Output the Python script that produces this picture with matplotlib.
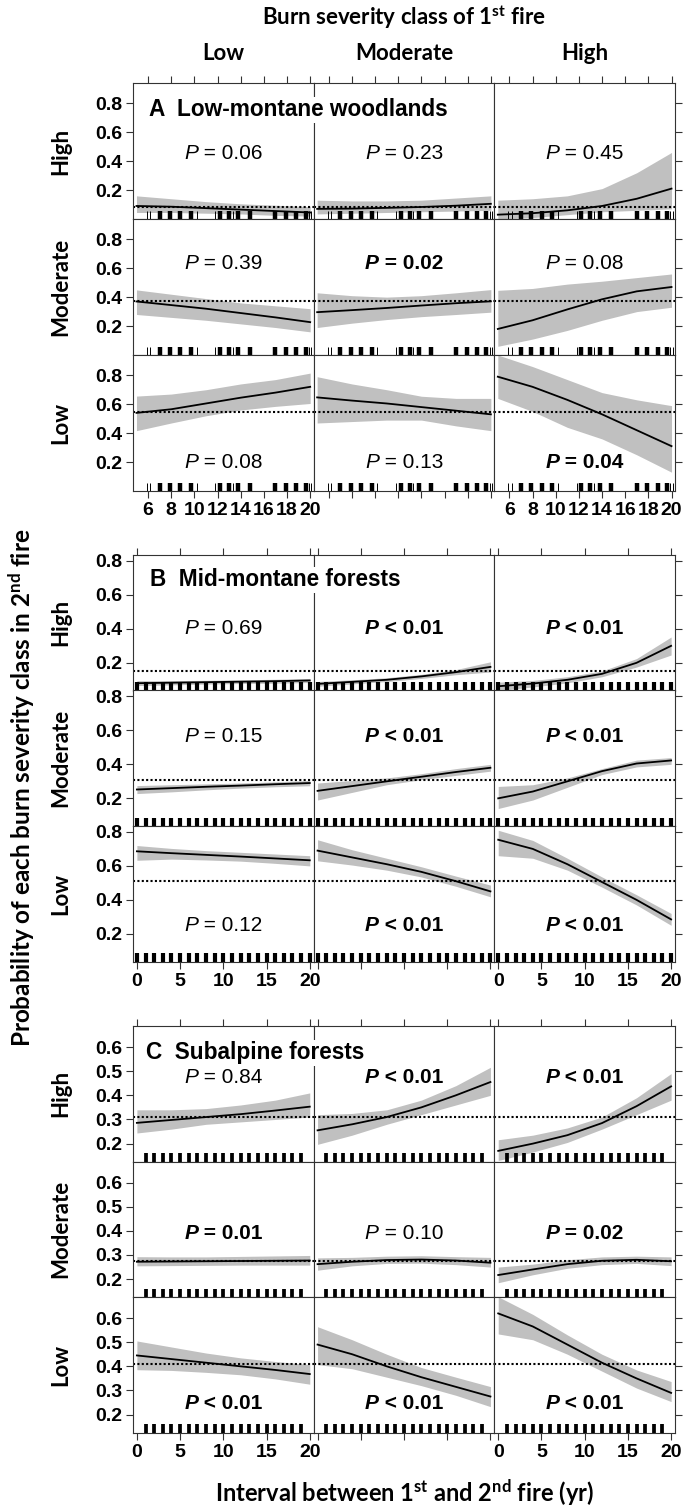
import numpy as np
import matplotlib
matplotlib.use('Agg')
import matplotlib.pyplot as plt
from matplotlib import font_manager as fm
from matplotlib.offsetbox import TextArea, HPacker, AnnotationBbox
import matplotlib.transforms as mtransforms

names = {f.name for f in fm.fontManager.ttflist}
NARROW = 'Liberation Sans Narrow' if 'Liberation Sans Narrow' in names else 'Liberation Sans'
HEAD = 'Lato' if 'Lato' in names else 'DejaVu Sans'
plt.rcParams['mathtext.fontset'] = 'custom'
plt.rcParams['mathtext.rm'] = HEAD + ':bold'
plt.rcParams['mathtext.it'] = HEAD + ':bold:italic'
plt.rcParams['mathtext.bf'] = HEAD + ':bold'

# ---------------- data ----------------
COL_CLASSES = ['Low', 'Moderate', 'High']      # burn severity of 1st fire
ROW_CLASSES = ['High', 'Moderate', 'Low']      # burn severity of 2nd fire
PANEL_TITLES = ['A  Low-montane woodlands', 'B  Mid-montane forests', 'C  Subalpine forests']

A_X = [5, 8, 11, 14, 17, 20]
A_HIGH_FIT = [[0.09, 0.085, 0.075, 0.065, 0.055, 0.045],
              [0.07, 0.072, 0.077, 0.083, 0.092, 0.105],
              [0.03, 0.04, 0.06, 0.09, 0.14, 0.21]]
A_HIGH_UP = [[0.16, 0.14, 0.12, 0.105, 0.095, 0.085],
             [0.13, 0.125, 0.125, 0.13, 0.145, 0.16],
             [0.13, 0.14, 0.16, 0.21, 0.32, 0.46]]
A_HIGH_LO = [[0.045, 0.045, 0.04, 0.035, 0.025, 0.02],
             [0.035, 0.04, 0.045, 0.05, 0.055, 0.06],
             [0.0, 0.01, 0.03, 0.05, 0.06, 0.07]]
A_MOD_FIT = [[0.37, 0.345, 0.32, 0.29, 0.26, 0.227],
             [0.296, 0.31, 0.325, 0.342, 0.358, 0.371],
             [0.18, 0.24, 0.315, 0.385, 0.44, 0.47]]
A_MOD_UP = [[0.45, 0.42, 0.39, 0.36, 0.34, 0.32],
            [0.43, 0.41, 0.40, 0.41, 0.43, 0.452],
            [0.447, 0.46, 0.49, 0.51, 0.535, 0.56]]
A_MOD_LO = [[0.28, 0.26, 0.24, 0.215, 0.19, 0.16],
            [0.19, 0.22, 0.245, 0.265, 0.28, 0.296],
            [0.06, 0.11, 0.17, 0.24, 0.30, 0.33]]
A_LOW_FIT = [[0.54, 0.565, 0.605, 0.645, 0.68, 0.72],
             [0.647, 0.625, 0.605, 0.58, 0.555, 0.53],
             [0.79, 0.72, 0.63, 0.53, 0.42, 0.31]]
A_LOW_UP = [[0.656, 0.67, 0.70, 0.74, 0.77, 0.815],
            [0.79, 0.74, 0.70, 0.655, 0.64, 0.64],
            [0.94, 0.86, 0.77, 0.68, 0.63, 0.59]]
A_LOW_LO = [[0.417, 0.47, 0.52, 0.56, 0.585, 0.605],
            [0.47, 0.48, 0.49, 0.49, 0.45, 0.417],
            [0.64, 0.55, 0.44, 0.36, 0.25, 0.13]]
A_MEAN = [0.085, 0.37, 0.545]
A_P = [['= 0.06', '= 0.23', '= 0.45'], ['= 0.39', '= 0.02', '= 0.08'], ['= 0.08', '= 0.13', '= 0.04']]
A_P_BOLD = [[False, False, False], [False, True, False], [False, False, True]]
A_P_Y = [0.45, 0.635, 0.2]
A_RUG_THICK = [7.0, 7.9, 8.8, 9.7, 12.2, 13.0, 13.8, 14.8, 17.0, 17.9, 18.8, 19.6]
A_RUG_THIN = [5.9, 6.2, 10.2, 11.8, 13.3, 19.9, 20.1]
A_XTICKS = [6, 8, 10, 12, 14, 16, 18, 20]
A_YTICKS = [0.2, 0.4, 0.6, 0.8]

B_X = [0, 4, 8, 12, 16, 20]
B_HIGH_FIT = [[0.08, 0.083, 0.086, 0.089, 0.092, 0.096],
              [0.076, 0.088, 0.10, 0.12, 0.145, 0.176],
              [0.062, 0.078, 0.10, 0.135, 0.20, 0.30]]
B_HIGH_UP = [[0.095, 0.095, 0.097, 0.10, 0.103, 0.108],
             [0.09, 0.10, 0.112, 0.132, 0.16, 0.206],
             [0.086, 0.096, 0.118, 0.152, 0.225, 0.352]]
B_HIGH_LO = [[0.066, 0.07, 0.075, 0.078, 0.08, 0.084],
             [0.062, 0.076, 0.09, 0.108, 0.13, 0.146],
             [0.036, 0.058, 0.082, 0.118, 0.175, 0.246]]
B_MOD_FIT = [[0.252, 0.26, 0.268, 0.275, 0.283, 0.29],
             [0.244, 0.272, 0.30, 0.327, 0.355, 0.38],
             [0.20, 0.24, 0.30, 0.36, 0.405, 0.423]]
B_MOD_UP = [[0.275, 0.28, 0.285, 0.29, 0.297, 0.305],
            [0.29, 0.305, 0.32, 0.345, 0.375, 0.40],
            [0.27, 0.28, 0.32, 0.375, 0.425, 0.44]]
B_MOD_LO = [[0.228, 0.238, 0.25, 0.26, 0.268, 0.274],
            [0.19, 0.235, 0.28, 0.31, 0.335, 0.36],
            [0.14, 0.19, 0.265, 0.34, 0.385, 0.40]]
B_LOW_FIT = [[0.686, 0.675, 0.665, 0.655, 0.644, 0.633],
             [0.69, 0.65, 0.61, 0.565, 0.51, 0.45],
             [0.754, 0.70, 0.61, 0.505, 0.40, 0.285]]
B_LOW_UP = [[0.72, 0.703, 0.69, 0.68, 0.67, 0.66],
            [0.754, 0.695, 0.645, 0.595, 0.54, 0.487],
            [0.81, 0.75, 0.645, 0.535, 0.43, 0.32]]
B_LOW_LO = [[0.633, 0.64, 0.635, 0.628, 0.615, 0.60],
            [0.63, 0.605, 0.575, 0.535, 0.48, 0.418],
            [0.66, 0.645, 0.575, 0.475, 0.37, 0.25]]
B_MEAN = [0.15, 0.305, 0.51]
B_P = [['= 0.69', '< 0.01', '< 0.01'], ['= 0.15', '< 0.01', '< 0.01'], ['= 0.12', '< 0.01', '< 0.01']]
B_P_BOLD = [[False, True, True], [False, True, True], [False, True, True]]
B_P_Y = [0.40, 0.565, 0.25]
B_RUG = list(range(0, 21))
B_XTICKS = [0, 5, 10, 15, 20]
B_YTICKS = [0.2, 0.4, 0.6, 0.8]

C_X = [0, 4, 8, 12, 16, 20]
C_HIGH_FIT = [[0.286, 0.298, 0.31, 0.322, 0.337, 0.353],
              [0.255, 0.28, 0.31, 0.35, 0.40, 0.455],
              [0.17, 0.20, 0.235, 0.285, 0.355, 0.437]]
C_HIGH_UP = [[0.34, 0.34, 0.345, 0.36, 0.38, 0.41],
             [0.32, 0.325, 0.34, 0.38, 0.44, 0.516],
             [0.216, 0.235, 0.265, 0.31, 0.39, 0.49]]
C_HIGH_LO = [[0.244, 0.26, 0.28, 0.29, 0.30, 0.31],
             [0.197, 0.235, 0.28, 0.32, 0.36, 0.40],
             [0.13, 0.165, 0.205, 0.26, 0.32, 0.38]]
C_MOD_FIT = [[0.272, 0.273, 0.274, 0.275, 0.276, 0.277],
             [0.262, 0.272, 0.279, 0.281, 0.277, 0.268],
             [0.217, 0.24, 0.262, 0.276, 0.28, 0.274]]
C_MOD_UP = [[0.293, 0.292, 0.292, 0.294, 0.296, 0.298],
            [0.288, 0.29, 0.295, 0.297, 0.293, 0.29],
            [0.25, 0.262, 0.28, 0.292, 0.295, 0.292]]
C_MOD_LO = [[0.255, 0.256, 0.257, 0.258, 0.258, 0.258],
            [0.237, 0.255, 0.265, 0.266, 0.26, 0.25],
            [0.185, 0.218, 0.245, 0.26, 0.265, 0.256]]
C_LOW_FIT = [[0.445, 0.43, 0.415, 0.40, 0.385, 0.368],
             [0.49, 0.45, 0.40, 0.355, 0.315, 0.275],
             [0.619, 0.565, 0.49, 0.415, 0.35, 0.29]]
C_LOW_UP = [[0.505, 0.48, 0.455, 0.435, 0.42, 0.407],
            [0.564, 0.51, 0.45, 0.395, 0.355, 0.316],
            [0.688, 0.615, 0.53, 0.45, 0.385, 0.337]]
C_LOW_LO = [[0.386, 0.383, 0.375, 0.365, 0.348, 0.326],
            [0.407, 0.39, 0.355, 0.32, 0.28, 0.233],
            [0.534, 0.51, 0.45, 0.38, 0.31, 0.254]]
C_MEAN = [0.312, 0.275, 0.411]
C_P = [['= 0.84', '< 0.01', '< 0.01'], ['= 0.01', '= 0.10', '= 0.02'], ['< 0.01', '< 0.01', '< 0.01']]
C_P_BOLD = [[False, True, True], [True, False, True], [True, True, True]]
C_P_Y = [0.475, 0.39, 0.245]
C_RUG = list(range(1, 20))
C_XTICKS = [0, 5, 10, 15, 20]
C_YTICKS = [0.2, 0.3, 0.4, 0.5, 0.6]

# ---------------- layout ----------------
W, H = 683, 1506
fig = plt.figure(figsize=(W / 100, H / 100), dpi=100)
LEFT, RIGHT = 133, 675
COLW = (RIGHT - LEFT) / 3.0

panels = [
    dict(top=83, rowh=136.0, x=A_X, fits=[A_HIGH_FIT, A_MOD_FIT, A_LOW_FIT],
         ups=[A_HIGH_UP, A_MOD_UP, A_LOW_UP], los=[A_HIGH_LO, A_MOD_LO, A_LOW_LO],
         mean=A_MEAN, p=A_P, pb=A_P_BOLD, py=A_P_Y, xlim=(4.7, 20.3), ylim=(0.0, 0.94),
         xt=A_XTICKS, yt=A_YTICKS, title_xy=(149, 110)),
    dict(top=555, rowh=135.5, x=B_X, fits=[B_HIGH_FIT, B_MOD_FIT, B_LOW_FIT],
         ups=[B_HIGH_UP, B_MOD_UP, B_LOW_UP], los=[B_HIGH_LO, B_MOD_LO, B_LOW_LO],
         mean=B_MEAN, p=B_P, pb=B_P_BOLD, py=B_P_Y, xlim=(-0.45, 20.45), ylim=(0.037, 0.835),
         xt=B_XTICKS, yt=B_YTICKS, title_xy=(150, 580)),
    dict(top=1026, rowh=135.5, x=C_X, fits=[C_HIGH_FIT, C_MOD_FIT, C_LOW_FIT],
         ups=[C_HIGH_UP, C_MOD_UP, C_LOW_UP], los=[C_HIGH_LO, C_MOD_LO, C_LOW_LO],
         mean=C_MEAN, p=C_P, pb=C_P_BOLD, py=C_P_Y, xlim=(-0.45, 20.45), ylim=(0.126, 0.687),
         xt=C_XTICKS, yt=C_YTICKS, title_xy=(146, 1053)),
]

FRAME = '#333333'
BAND = '#c0c0c0'
TICKFONT = dict(family=NARROW, weight='bold', size=14)


def draw_rug(ax, pi):
    tr = mtransforms.blended_transform_factory(ax.transData, ax.transAxes)
    if pi == 0:
        ax.vlines(A_RUG_THICK, 0, 0.062, transform=tr, color='black', lw=3.2)
        ax.vlines(A_RUG_THIN, 0, 0.062, transform=tr, color='black', lw=0.7)
    elif pi == 1:
        ax.vlines(B_RUG, 0, 0.062, transform=tr, color='black', lw=3.0)
    else:
        ax.vlines(C_RUG, 0, 0.06, transform=tr, color='black', lw=2.7)


for pi, P in enumerate(panels):
    for r in range(3):
        for c in range(3):
            y_top = P['top'] + r * P['rowh']
            ax = fig.add_axes([(LEFT + c * COLW) / W, 1 - (y_top + P['rowh']) / H,
                               COLW / W, P['rowh'] / H])
            ax.set_xlim(*P['xlim'])
            ax.set_ylim(*P['ylim'])
            for s in ax.spines.values():
                s.set_color(FRAME)
                s.set_linewidth(0.8)
            x = P['x']
            ax.fill_between(x, P['los'][r][c], P['ups'][r][c], color=BAND, lw=0, zorder=1)
            ax.plot(x, P['fits'][r][c], color='black', lw=1.3, zorder=3)
            ax.axhline(P['mean'][r], color='black', lw=1.5, ls=(0, (1, 1.1)), zorder=2)
            draw_rug(ax, pi)
            # P label
            ta1 = TextArea('P', textprops=dict(family=NARROW, style='italic', size=15,
                                               weight='bold' if P['pb'][r][c] else 'normal'))
            ta2 = TextArea(' ' + P['p'][r][c], textprops=dict(family=NARROW, size=15,
                                                              weight='bold' if P['pb'][r][c] else 'normal'))
            pack = HPacker(children=[ta1, ta2], align='baseline', pad=0, sep=0)
            ab = AnnotationBbox(pack, (0.5, P['py'][r]), xycoords=('axes fraction', 'data'),
                                frameon=False, box_alignment=(0.5, 0.5), pad=0, zorder=5)
            ax.add_artist(ab)
            # ticks
            ax.set_yticks(P['yt'])
            ax.set_xticks(P['xt'])
            ax.tick_params(axis='both', direction='out', length=5, width=0.8, color=FRAME)
            if c == 0:
                ax.tick_params(axis='y', left=True, right=False, labelleft=True, labelright=False, pad=3)
                ax.set_yticklabels(['%g' % v for v in P['yt']], fontdict=TICKFONT)
            elif c == 2:
                ax.tick_params(axis='y', left=False, right=True, labelleft=False, labelright=False)
            else:
                ax.tick_params(axis='y', left=False, right=False, labelleft=False, labelright=False)
            top = (r == 0)
            bot = (r == 2)
            ax.tick_params(axis='x', top=top, bottom=bot, labeltop=False,
                           labelbottom=(bot and c != 1), pad=3)
            if bot and c != 1:
                ax.set_xticklabels([str(v) for v in P['xt']], fontdict=TICKFONT)
    # panel title
    tx, ty = P['title_xy']
    fig.text(tx / W, 1 - ty / H, PANEL_TITLES[pi], family=NARROW, weight='bold', size=16.3,
             ha='left', va='center', zorder=20,
             bbox=dict(fc='white', ec='none', pad=1.0))
    # row labels
    for r in range(3):
        yc = P['top'] + (r + 0.5) * P['rowh']
        fig.text(61 / W, 1 - yc / H, ROW_CLASSES[r], family=HEAD, weight='bold', size=16,
                 rotation=90, ha='center', va='center')

# column headers and figure titles
for c in range(3):
    fig.text((LEFT + (c + 0.5) * COLW) / W, 1 - 53 / H, COL_CLASSES[c], family=HEAD,
             weight='bold', size=16, ha='center', va='center')
fig.text(404 / W, 1 - 17 / H, r'Burn severity class of 1$^{\mathrm{st}}$ fire', family=HEAD,
         weight='bold', size=16, ha='center', va='center')
fig.text(404 / W, 1 - 1493 / H, r'Interval between 1$^{\mathrm{st}}$ and 2$^{\mathrm{nd}}$ fire (yr)',
         family=HEAD, weight='bold', size=17, ha='center', va='center')
fig.text(22 / W, 1 - 788 / H,
         r'Probability of each burn severity class in 2$^{\mathrm{nd}}$ fire',
         family=HEAD, weight='bold', size=17.5, rotation=90, ha='center', va='center')

fig.savefig('out.png', dpi=100)
